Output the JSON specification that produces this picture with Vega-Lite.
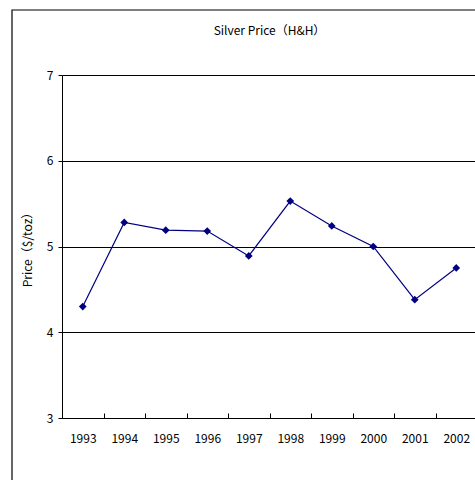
{
  "$schema": "https://vega.github.io/schema/vega-lite/v6.json",
  "width": 415,
  "height": 343,
  "autosize": {"type": "none"},
  "padding": {"left": 62, "top": 75, "right": 0, "bottom": 62},
  "background": "white",
  "title": {"text": "Silver Price（H&H）", "fontSize": 12, "font": "Noto Sans CJK JP", "fontWeight": "normal", "offset": 0, "dy": 29, "color": "black"},
  "config": {
    "view": {"stroke": null},
    "axis": {"labelFont": "Noto Sans CJK JP", "labelFontSize": 12, "labelColor": "black", "titleFont": "Noto Sans CJK JP", "titleFontSize": 12, "titleFontWeight": "normal", "titleColor": "black", "domainColor": "black", "tickColor": "black"}
  },
  "data": {"values": [
    {"year": "1993", "price": 4.30},
    {"year": "1994", "price": 5.28},
    {"year": "1995", "price": 5.19},
    {"year": "1996", "price": 5.18},
    {"year": "1997", "price": 4.89},
    {"year": "1998", "price": 5.53},
    {"year": "1999", "price": 5.24},
    {"year": "2000", "price": 5.00},
    {"year": "2001", "price": 4.38},
    {"year": "2002", "price": 4.75}
  ]},
  "encoding": {
    "x": {"field": "year", "type": "ordinal", "bandPosition": 0.5,
      "scale": {"type": "band", "paddingInner": 0, "paddingOuter": 0},
      "axis": {"title": null, "labelAngle": 0, "tickBand": "extent", "tickSize": -5, "labelPadding": 20, "grid": false}},
    "y": {"field": "price", "type": "quantitative",
      "scale": {"domain": [3, 7], "nice": false, "zero": false},
      "axis": {"values": [3, 4, 5, 6, 7], "grid": true, "gridColor": "black", "gridOpacity": 1, "tickSize": 4, "labelPadding": 5, "title": "Price（$/toz）", "titlePadding": 12}}
  },
  "layer": [
    {
      "data": {"values": [{"frame": 1}]},
      "mark": {"type": "rect", "fill": null, "stroke": "black", "strokeWidth": 1.2},
      "encoding": {"x": {"value": -50}, "x2": {"value": 500}, "y": {"value": -65}, "y2": {"value": 500}}
    },
    {"mark": {"type": "line", "color": "#000080", "strokeWidth": 1.2}},
    {"mark": {"type": "point", "shape": "diamond", "filled": true, "color": "#000080", "size": 60, "opacity": 1}}
  ]
}
